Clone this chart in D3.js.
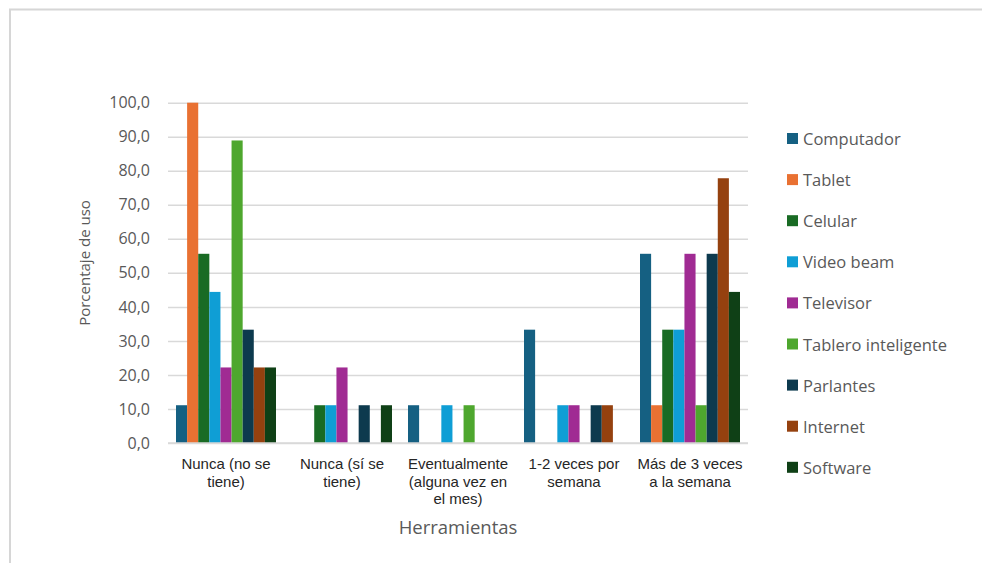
<!DOCTYPE html>
<html>
<head>
<meta charset="utf-8">
<script src="https://cdn.jsdelivr.net/npm/d3@7"></script>
<style>
  html, body { margin: 0; padding: 0; background: #fff; }
  svg { display: block; }
</style>
</head>
<body>
<svg id="chart" width="982" height="563"></svg>
<script>
// Categories (frequency of use) and one value list per tool
const categories = [
  "Nunca (no se\ntiene)",
  "Nunca (sí se\ntiene)",
  "Eventualmente\n(alguna vez en\nel mes)",
  "1-2 veces por\nsemana",
  "Más de 3 veces\na la semana"
];
const seriesNames = [
  "Computador", "Tablet", "Celular", "Video beam", "Televisor",
  "Tablero inteligente", "Parlantes", "Internet", "Software"
];
const computador = [11.1, 0, 11.1, 33.3, 55.6];
const tablet     = [100, 0, 0, 0, 11.1];
const celular    = [55.6, 11.1, 0, 0, 33.3];
const videoBeam  = [44.4, 11.1, 11.1, 11.1, 33.3];
const televisor  = [22.2, 22.2, 0, 11.1, 55.6];
const tablero    = [88.9, 0, 11.1, 0, 11.1];
const parlantes  = [33.3, 11.1, 0, 11.1, 55.6];
const internet   = [22.2, 0, 0, 11.1, 77.8];
const software   = [22.2, 11.1, 0, 0, 44.4];
const yTicks = [0, 10, 20, 30, 40, 50, 60, 70, 80, 90, 100];
const colors = ["#156082", "#E97132", "#196B24", "#0F9ED5", "#A02B93",
                "#4EA72E", "#0D3A4E", "#95410F", "#0F4016"];

const seriesValues = [computador, tablet, celular, videoBeam, televisor,
                      tablero, parlantes, internet, software];

const svg = d3.select("#chart");
const textColor = "#595959";
const font = "'Open Sans', 'Noto Sans', sans-serif";
const labelFont = "'Liberation Sans', Arial, sans-serif";

// outer frame (top and left edges visible)
svg.append("path")
  .attr("d", "M10,563 L10,9.5 L982,9.5")
  .attr("fill", "none")
  .attr("stroke", "#d6d6d6")
  .attr("stroke-width", 2);

const plot = { left: 168, right: 748, top: 102.7, bottom: 443 };

const x0 = d3.scaleBand()
  .domain(d3.range(categories.length))
  .range([plot.left, plot.right])
  .paddingInner(0.138)
  .paddingOuter(0.069);
// band for each category including gaps, used for label centring
const xCat = d3.scaleBand()
  .domain(d3.range(categories.length))
  .range([plot.left, plot.right]);
const x1 = d3.scaleBand()
  .domain(d3.range(seriesNames.length))
  .range([0, x0.bandwidth()]);
const y = d3.scaleLinear().domain([0, 100]).range([plot.bottom, plot.top]);

// gridlines + tick labels via axis
const yAxis = svg.append("g")
  .attr("transform", `translate(${plot.left},0)`)
  .call(d3.axisLeft(y).tickValues(yTicks).tickSize(-(plot.right - plot.left))
        .tickFormat(d => d3.format(".1f")(d).replace(".", ",")).tickPadding(18));
yAxis.select(".domain").remove();
yAxis.selectAll(".tick line")
  .attr("stroke", "#d9d9d9").attr("stroke-width", 1.5);
yAxis.selectAll(".tick text")
  .attr("fill", textColor)
  .style("font-family", font)
  .style("font-size", "16px");

// bars
const groups = svg.append("g").selectAll("g")
  .data(categories)
  .join("g")
  .attr("transform", (d, i) => `translate(${x0(i)},0)`);

groups.selectAll("rect")
  .data((d, ci) => seriesValues.map((vals, si) => ({ si, v: vals[ci] })))
  .join("rect")
  .attr("x", d => x1(d.si))
  .attr("width", x1.bandwidth())
  .attr("y", d => y(d.v))
  .attr("height", d => y(0) - y(d.v))
  .attr("fill", d => colors[d.si]);

// baseline
svg.append("line")
  .attr("x1", plot.left).attr("x2", plot.right)
  .attr("y1", y(0)).attr("y2", y(0))
  .attr("stroke", "#d9d9d9").attr("stroke-width", 1.5);

// category labels
categories.forEach((c, i) => {
  const t = svg.append("text")
    .attr("x", xCat(i) + xCat.bandwidth() / 2)
    .attr("y", 469)
    .attr("text-anchor", "middle")
    .attr("fill", "#262626")
    .style("font-family", labelFont)
    .style("font-size", "15px");
  c.split("\n").forEach((line, li) => {
    t.append("tspan")
      .attr("x", xCat(i) + xCat.bandwidth() / 2)
      .attr("dy", li === 0 ? 0 : 17.5)
      .text(line);
  });
});

// axis titles
svg.append("text")
  .attr("x", (plot.left + plot.right) / 2)
  .attr("y", 534)
  .attr("text-anchor", "middle")
  .attr("fill", textColor)
  .style("font-family", font)
  .style("font-size", "18.5px")
  .text("Herramientas");

svg.append("text")
  .attr("transform", `translate(90,263) rotate(-90)`)
  .attr("text-anchor", "middle")
  .attr("fill", textColor)
  .style("font-family", font)
  .style("font-size", "15px")
  .text("Porcentaje de uso");

// legend
const legend = svg.append("g").attr("transform", "translate(787,139)");
seriesNames.forEach((name, i) => {
  const g = legend.append("g").attr("transform", `translate(0,${i * 41.1})`);
  g.append("rect")
    .attr("x", 0).attr("y", -6)
    .attr("width", 11).attr("height", 11)
    .attr("fill", colors[i]);
  g.append("text")
    .attr("x", 16).attr("y", 6)
    .attr("fill", textColor)
    .style("font-family", font)
    .style("font-size", "16.5px")
    .text(name);
});
</script>
</body>
</html>
